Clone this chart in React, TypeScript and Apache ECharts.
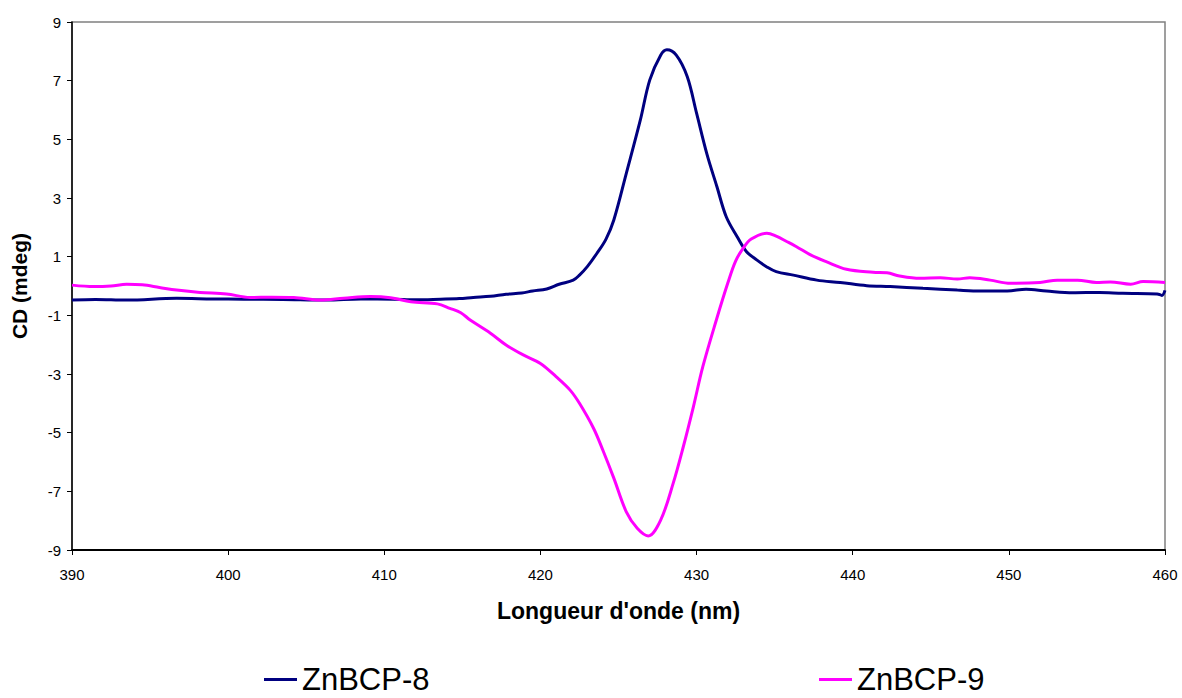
import React, { useEffect, useRef } from "react";
import * as echarts from "echarts";

const xTicks = { min: 390, max: 460, interval: 10 };
const yTicks = { min: -9, max: 9, interval: 2 };

const seriesNames = ["ZnBCP-8", "ZnBCP-9"];

const wl8 = [390, 391.5, 393.5, 396.7, 399, 401, 403.5, 406.3, 408.5, 410.6, 412, 413.6, 414.8, 415.7, 416.8, 417.8, 418.8, 419.5, 420.4, 421.2, 422.1, 422.5, 423, 423.6, 424.2, 424.7, 425.5, 426.4, 427, 427.7, 428.1, 428.7, 429.4, 430, 430.65, 431.3, 431.9, 432.6, 433.2, 433.85, 434.5, 435.1, 436.2, 437.7, 439.2, 440.9, 442.4, 444.5, 446.7, 448.2, 449.9, 451.1, 452.4, 454.1, 455.8, 457.3, 459.5, 459.8, 460];
const cd8 = [-0.48, -0.46, -0.48, -0.42, -0.44, -0.45, -0.46, -0.48, -0.44, -0.45, -0.47, -0.45, -0.43, -0.39, -0.35, -0.28, -0.24, -0.17, -0.1, 0.06, 0.2, 0.37, 0.66, 1.1, 1.6, 2.25, 3.84, 5.66, 7.02, 7.87, 8.05, 7.87, 7.14, 5.89, 4.52, 3.39, 2.36, 1.68, 1.17, 0.89, 0.65, 0.49, 0.37, 0.2, 0.12, 0.01, -0.02, -0.08, -0.14, -0.17, -0.17, -0.11, -0.17, -0.23, -0.22, -0.25, -0.27, -0.32, -0.15];

const wl9 = [390, 391.4, 392.5, 393.5, 394.5, 395.6, 396.7, 398.2, 399.9, 401.4, 402.8, 404.2, 405.9, 407.4, 409.1, 410.4, 411.7, 413.4, 414.2, 414.9, 415.5, 416.8, 417.8, 418.9, 420, 421, 421.9, 422.5, 423.4, 424, 424.7, 425.5, 426.2, 426.9, 427.7, 428.5, 429.15, 429.8, 430.4, 431.3, 432, 432.5, 433, 433.5, 434.5, 435.1, 435.8, 436.4, 437.3, 438.3, 439.6, 441.3, 442.2, 443, 444.3, 445.6, 446.7, 447.5, 448.8, 450.1, 452, 453.1, 454.4, 455.6, 456.5, 457.8, 458.6, 460];
const cd9 = [0.03, -0.02, 0.0, 0.06, 0.04, -0.05, -0.14, -0.22, -0.27, -0.39, -0.38, -0.39, -0.48, -0.42, -0.36, -0.4, -0.54, -0.61, -0.76, -0.91, -1.16, -1.61, -2.01, -2.35, -2.64, -3.09, -3.55, -4.0, -4.85, -5.6, -6.55, -7.7, -8.26, -8.52, -7.98, -6.73, -5.48, -4.11, -2.75, -1.1, 0.1, 0.85, 1.3, 1.6, 1.8, 1.7, 1.51, 1.34, 1.06, 0.83, 0.57, 0.47, 0.45, 0.34, 0.26, 0.28, 0.24, 0.28, 0.2, 0.09, 0.12, 0.2, 0.2, 0.12, 0.14, 0.06, 0.15, 0.12];

const xName = "Longueur d'onde (nm)";
const yName = "CD (mdeg)";

const FONT = "'Liberation Sans', Arial, sans-serif";

export default function App() {
  const ref = useRef<HTMLDivElement>(null);
  useEffect(() => {
    document.body.style.margin = "0";
    if (!ref.current) return;
    const chart = echarts.init(ref.current, null, { renderer: "svg" });
    const zip = (xs: number[], ys: number[]) => xs.map((x, i) => [x, ys[i]]);
    const legendBase = {
      top: 664,
      icon: "rect",
      itemWidth: 33,
      itemHeight: 3,
      itemGap: 5,
      padding: 0,
      textStyle: { fontFamily: FONT, fontSize: 31, lineHeight: 31, color: "#000" },
    };
    chart.setOption({
      animation: false,
      backgroundColor: "#ffffff",
      textStyle: { fontFamily: FONT },
      grid: {
        left: 72,
        right: 17,
        top: 22,
        bottom: 148,
        show: true,
        borderColor: "#808080",
        borderWidth: 1.5,
        backgroundColor: "transparent",
      },
      legend: [
        { ...legendBase, data: [seriesNames[0]], left: 264 },
        { ...legendBase, data: [seriesNames[1]], left: 819 },
      ],
      xAxis: {
        type: "value",
        min: xTicks.min,
        max: xTicks.max,
        interval: xTicks.interval,
        name: xName,
        nameLocation: "middle",
        nameGap: 49,
        nameTextStyle: { fontFamily: FONT, fontSize: 23, fontWeight: "bold", color: "#000" },
        axisLine: { show: true, onZero: false, lineStyle: { color: "#000", width: 2 } },
        axisTick: { show: true, inside: false, length: 5, lineStyle: { color: "#000" } },
        axisLabel: { fontFamily: FONT, fontSize: 15, color: "#000", margin: 17 },
        splitLine: { show: false },
      },
      yAxis: {
        type: "value",
        min: yTicks.min,
        max: yTicks.max,
        interval: yTicks.interval,
        name: yName,
        nameLocation: "middle",
        nameGap: 42,
        nameRotate: 90,
        nameTextStyle: { fontFamily: FONT, fontSize: 21, fontWeight: "bold", color: "#000" },
        axisLine: { show: true, onZero: false, lineStyle: { color: "#000", width: 1.5 } },
        axisTick: { show: true, inside: false, length: 5, lineStyle: { color: "#000" } },
        axisLabel: { fontFamily: FONT, fontSize: 15, color: "#000", margin: 11 },
        splitLine: { show: false },
      },
      series: [
        {
          name: seriesNames[0],
          type: "line",
          data: zip(wl8, cd8),
          showSymbol: false,
          symbol: "none",
          smooth: 0.35,
          lineStyle: { color: "#000080", width: 3 },
          itemStyle: { color: "#000080" },
        },
        {
          name: seriesNames[1],
          type: "line",
          data: zip(wl9, cd9),
          showSymbol: false,
          symbol: "none",
          smooth: 0.35,
          lineStyle: { color: "#FF00FF", width: 3 },
          itemStyle: { color: "#FF00FF" },
        },
      ],
    });
    return () => chart.dispose();
  }, []);
  return <div ref={ref} style={{ width: 1182, height: 698 }} />;
}
